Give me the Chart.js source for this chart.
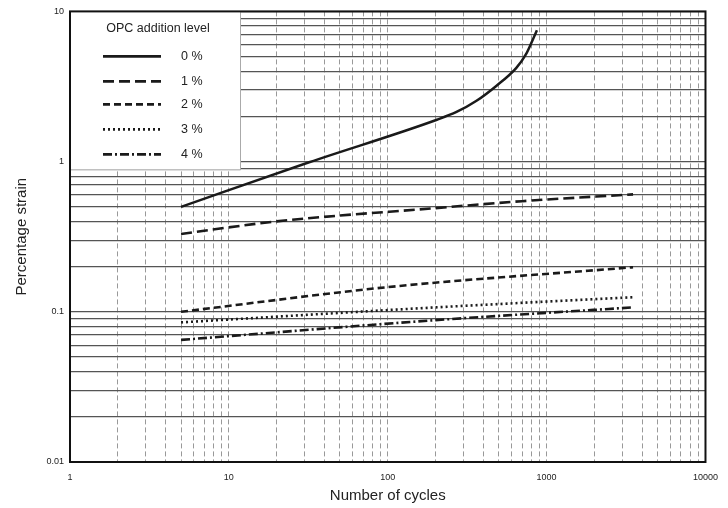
<!DOCTYPE html>
<html>
<head>
<meta charset="utf-8">
<script src="https://cdn.jsdelivr.net/npm/chart.js@4/dist/chart.umd.min.js"></script>
<style>
  html, body { margin: 0; padding: 0; background: #fff; }
  #wrap { width: 728px; height: 508px; }
</style>
</head>
<body>
<div id="wrap"><canvas id="chart"></canvas></div>
<script>
// series (cycles / percentage strain)
const seriesNames = ['0 %', '1 %', '2 %', '3 %', '4 %'];

const cycles0 = [5, 32, 204, 271, 362, 482, 643, 742, 821, 869];
const strain0 = [0.50, 0.99, 1.90, 2.14, 2.54, 3.19, 4.19, 5.19, 6.53, 7.48];

const cycles1 = [5, 20, 200, 700, 3500];
const strain1 = [0.33, 0.40, 0.49, 0.545, 0.605];

const cycles2 = [5, 100, 3500];
const strain2 = [0.10, 0.146, 0.198];

const cycles3 = [5, 200, 3500];
const strain3 = [0.085, 0.107, 0.125];

const cycles4 = [5, 200, 3500];
const strain4 = [0.065, 0.088, 0.107];

const xTickLabels = [1, 10, 100, 1000, 10000];
const yTickLabels = [0.01, 0.1, 1, 10];

const dashes = [[], [11, 5], [7, 4], [2, 3], [9, 3, 2, 3]];
const lineColor = '#1a1a1a';

function toPoints(xs, ys) {
  return xs.map((x, i) => ({ x: x, y: ys[i] }));
}

// every 1..9 step of each decade gets a grid line, only the decades get a label
function logTicks(majors) {
  const ticks = [];
  for (let d = 0; d < majors.length - 1; d++) {
    for (let k = 1; k < 10; k++) ticks.push({ value: majors[d] * k });
  }
  ticks.push({ value: majors[majors.length - 1] });
  return ticks;
}

const allSeries = [
  toPoints(cycles0, strain0),
  toPoints(cycles1, strain1),
  toPoints(cycles2, strain2),
  toPoints(cycles3, strain3),
  toPoints(cycles4, strain4)
];

const datasets = allSeries.map((pts, i) => ({
  label: seriesNames[i],
  data: pts,
  borderColor: lineColor,
  borderWidth: i === 0 ? 2.5 : 2.6,
  borderDash: dashes[i],
  pointRadius: 0,
  fill: false,
  cubicInterpolationMode: 'monotone'
}));

const frameAndLegend = {
  id: 'frameAndLegend',
  afterDraw(chart) {
    const ctx = chart.ctx;
    const a = chart.chartArea;

    // legend box in the upper left corner
    const bx = a.left, by = a.top, bw = 170, bh = 158;
    ctx.save();
    ctx.fillStyle = '#fff';
    ctx.fillRect(bx, by, bw, bh);
    ctx.strokeStyle = '#aaa';
    ctx.lineWidth = 1;
    ctx.beginPath();
    ctx.moveTo(bx + bw + 0.5, by);
    ctx.lineTo(bx + bw + 0.5, by + bh + 0.5);
    ctx.lineTo(bx, by + bh + 0.5);
    ctx.stroke();

    ctx.fillStyle = '#222';
    ctx.font = '12.5px "Liberation Sans", Arial, sans-serif';
    ctx.textBaseline = 'middle';
    ctx.textAlign = 'center';
    ctx.fillText('OPC addition level', bx + 88, by + 17);

    const rowY = [45, 70, 93, 118, 143];
    seriesNames.forEach((name, i) => {
      const y = by + rowY[i];
      ctx.strokeStyle = lineColor;
      ctx.lineWidth = 2.6;
      ctx.setLineDash(dashes[i]);
      ctx.beginPath();
      ctx.moveTo(bx + 33, y);
      ctx.lineTo(bx + 91, y);
      ctx.stroke();
      ctx.setLineDash([]);
      ctx.textAlign = 'left';
      ctx.fillText(name, bx + 111, y);
    });

    // heavy frame round the plot
    ctx.strokeStyle = '#111';
    ctx.lineWidth = 2;
    ctx.strokeRect(a.left, a.top, a.right - a.left, a.bottom - a.top);
    ctx.restore();
  }
};

new Chart(document.getElementById('chart').getContext('2d'), {
  type: 'line',
  data: { datasets: datasets },
  options: {
    responsive: true,
    maintainAspectRatio: false,
    animation: false,
    layout: { padding: { top: 10, right: 17, left: 0, bottom: 0 } },
    plugins: {
      legend: { display: false },
      tooltip: { enabled: false }
    },
    scales: {
      x: {
        type: 'logarithmic',
        min: 1,
        max: 10000,
        afterBuildTicks: s => { s.ticks = logTicks(xTickLabels); },
        afterFit: s => { s.height = 46; },
        grid: { color: '#999', lineWidth: 1, drawTicks: false },
        border: { display: false, dash: [5, 3] },
        ticks: {
          autoSkip: false,
          maxRotation: 0,
          padding: 10,
          color: '#222',
          font: { family: '"Liberation Sans", Arial, sans-serif', size: 9 },
          callback: v => xTickLabels.includes(v) ? String(v) : ''
        },
        title: {
          display: true,
          text: 'Number of cycles',
          color: '#222',
          padding: { top: 0, bottom: 3 },
          font: { family: '"Liberation Sans", Arial, sans-serif', size: 15 }
        }
      },
      y: {
        type: 'logarithmic',
        min: 0.01,
        max: 10,
        afterBuildTicks: s => { s.ticks = logTicks(yTickLabels); },
        afterFit: s => { s.width = 70; },
        grid: { color: '#555', lineWidth: 1.2, drawTicks: false },
        border: { display: false },
        ticks: {
          autoSkip: false,
          padding: 6,
          color: '#222',
          font: { family: '"Liberation Sans", Arial, sans-serif', size: 9 },
          callback: v => yTickLabels.includes(v) ? String(v) : ''
        },
        title: {
          display: true,
          text: 'Percentage strain',
          color: '#222',
          padding: { top: 13, bottom: 0 },
          font: { family: '"Liberation Sans", Arial, sans-serif', size: 15 }
        }
      }
    }
  },
  plugins: [frameAndLegend]
});
</script>
</body>
</html>
